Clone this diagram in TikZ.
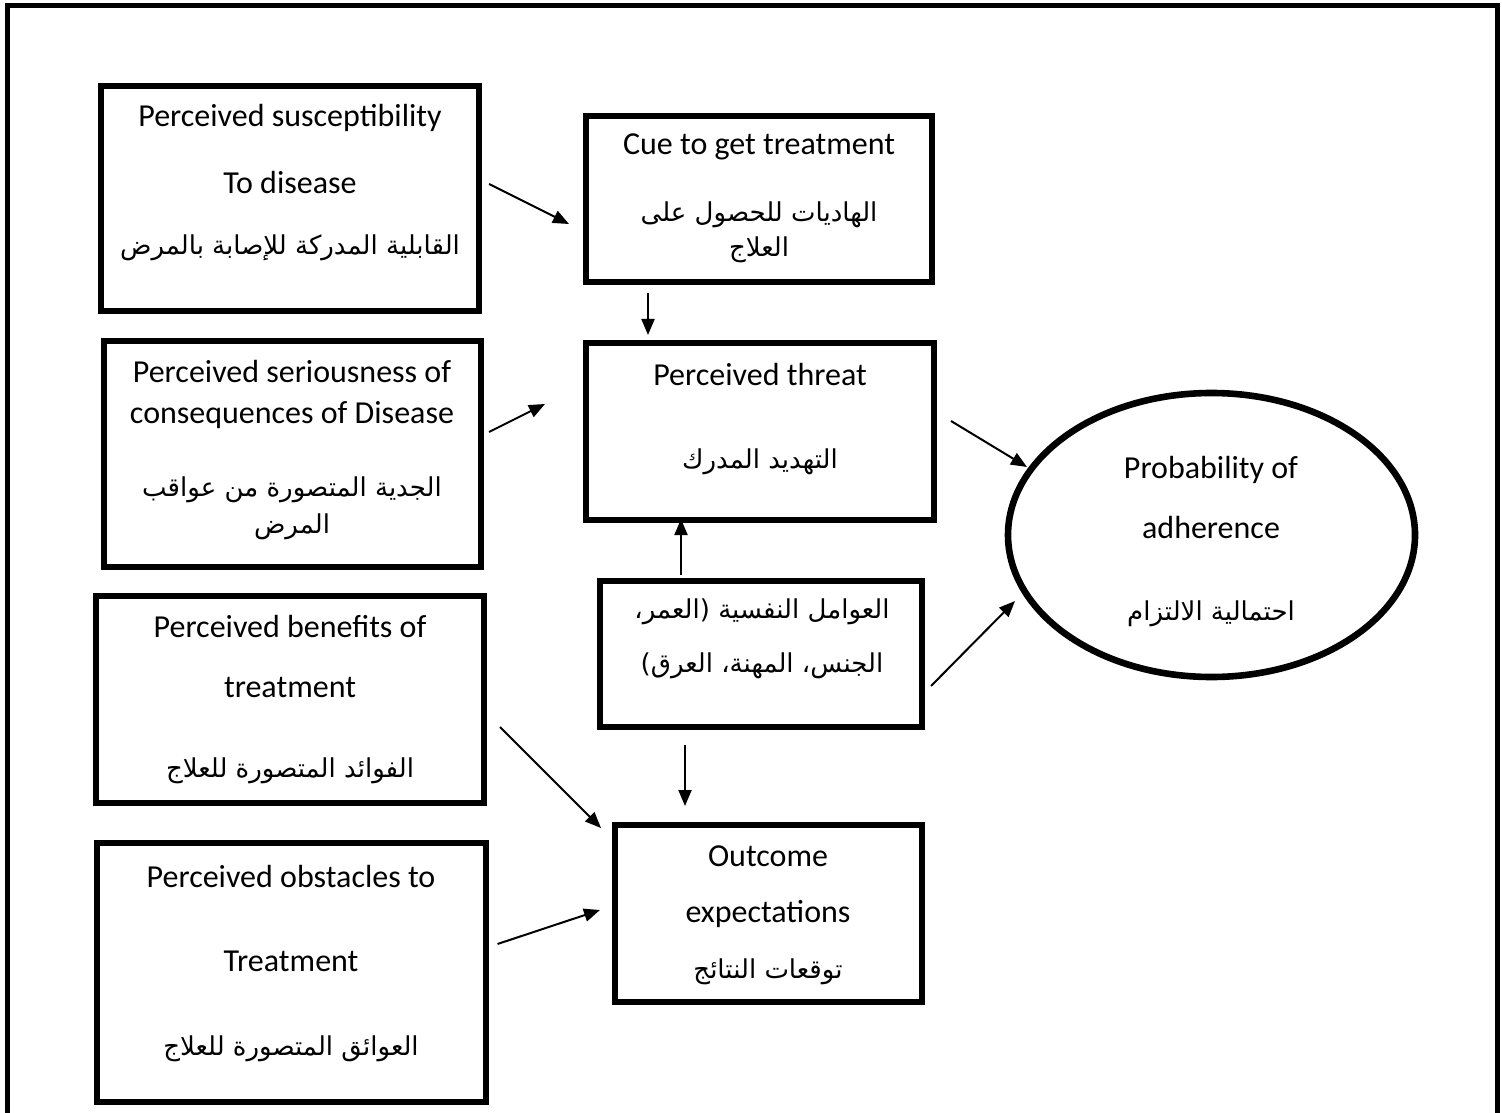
\documentclass[tikz,border=0pt]{standalone}
\usepackage{fontspec}
\setmainfont{Carlito}
\newfontfamily\arabicfont[Script=Arabic]{DejaVu Sans}
\TeXXeTstate=1
\usetikzlibrary{arrows.meta,shapes.geometric,calc}
\newcommand{\artxt}[1]{{\arabicfont\fontsize{13}{16}\selectfont\beginR #1\endR}}
\begin{document}
\begin{tikzpicture}[x=0.5pt,y=-0.5pt,
  box/.style={draw,line width=3pt,inner sep=0pt,fill=white},
  oval/.style={draw,ellipse,line width=3.3pt,inner sep=0pt},
  txt/.style={inner sep=0pt,font=\fontsize{16}{19}\selectfont},
  link/.style={line width=1pt,-{Triangle[length=8pt,width=6.5pt]}},
  frame/.style={line width=2.5pt}]
\useasboundingbox (0,0) rectangle (1502,1112);
% open outer frame
\draw[frame] (7,1120) -- (7,6) -- (1497,6) -- (1497,1120);

% boxes
\node[box,minimum width=189pt,minimum height=112.5pt] (sus) at (290,198.5) {};
\node[box,minimum width=173pt,minimum height=83pt] (cue) at (759,199) {};
\node[box,minimum width=174pt,minimum height=88.5pt] (thr) at (760,431.5) {};
\node[box,minimum width=188.5pt,minimum height=113pt] (ser) at (292.5,454) {};
\node[box,minimum width=161pt,minimum height=73pt] (fac) at (761,654) {};
\node[box,minimum width=194pt,minimum height=103.5pt] (ben) at (290,699.5) {};
\node[box,minimum width=194.5pt,minimum height=129.5pt] (obs) at (291.5,972.5) {};
\node[box,minimum width=153.5pt,minimum height=88.5pt] (out) at (768.5,913.5) {};
\node[oval,minimum width=203.5pt,minimum height=142pt] (adh) at (1211.5,535) {};

% labels
\node[txt] (sus1) at (290,118) {Perceived susceptibility};
\node[txt] (sus2) at (290,183) {To disease};
\node[txt] (sus3) at (290,248) {\artxt{القابلية المدركة للإصابة بالمرض}};

\node[txt] (cue1) at (759,147) {Cue to get treatment};
\node[txt] (cue2) at (759,215) {\artxt{الهاديات للحصول على}};
\node[txt] (cue3) at (759,250) {\artxt{العلاج}};

\node[txt] (thr1) at (760,375) {Perceived threat};
\node[txt] (thr2) at (760,462) {\artxt{التهديد المدرك}};

\node[txt] (ser1) at (292,372) {Perceived seriousness of};
\node[txt] (ser2) at (292,415) {consequences of Disease};
\node[txt] (ser3) at (292,490) {\artxt{الجدية المتصورة من عواقب}};
\node[txt] (ser4) at (292,527) {\artxt{المرض}};

\node[txt] (fac1) at (762,612) {\artxt{العوامل النفسية (العمر،}};
\node[txt] (fac2) at (762,666) {\artxt{الجنس، المهنة، العرق)}};

\node[txt] (adh1) at (1211,470) {Probability of};
\node[txt] (adh2) at (1211,528) {adherence};
\node[txt] (adh3) at (1211,614) {\artxt{احتمالية الالتزام}};

\node[txt] (ben1) at (290,627) {Perceived benefits of};
\node[txt] (ben2) at (290,687) {treatment};
\node[txt] (ben3) at (290,771) {\artxt{الفوائد المتصورة للعلاج}};

\node[txt] (obs1) at (291,876) {Perceived obstacles to};
\node[txt] (obs2) at (291,961) {Treatment};
\node[txt] (obs3) at (291,1049) {\artxt{العوائق المتصورة للعلاج}};

\node[txt] (out1) at (768,856) {Outcome};
\node[txt] (out2) at (768,914) {expectations};
\node[txt] (out3) at (768,972) {\artxt{توقعات النتائج}};

% connectors
\draw[link] ($(sus.east)+(7,-14.5)$) -- ($(cue.west)+(-14,25)$);
\draw[link] ($(cue.south)+(-111,8)$) -- ($(thr.north)+(-112,-5)$);
\draw[link] ($(ser.east)+(5,-22)$) -- ($(thr.west)+(-38,-27.5)$);
\draw[link] ($(thr.east)+(14,-10.5)$) -- ($(adh.center)+(-184.5,-68)$);
\draw[link] ($(fac.north)+(-80,-3)$) -- ($(thr.south)+(-79,-4)$);
\draw[link] ($(fac.east)+(6,32)$) -- ($(adh.center)+(-196.5,66)$);
\draw[link] ($(fac.south)+(-76,15)$) -- ($(out.north)+(-83.5,-16)$);
\draw[link] ($(ben.east)+(13,27.5)$) -- ($(out.west)+(-11,-85.5)$);
\draw[link] ($(obs.east)+(8.5,-28.5)$) -- ($(out.west)+(-12,-3.5)$);
\end{tikzpicture}
\end{document}
